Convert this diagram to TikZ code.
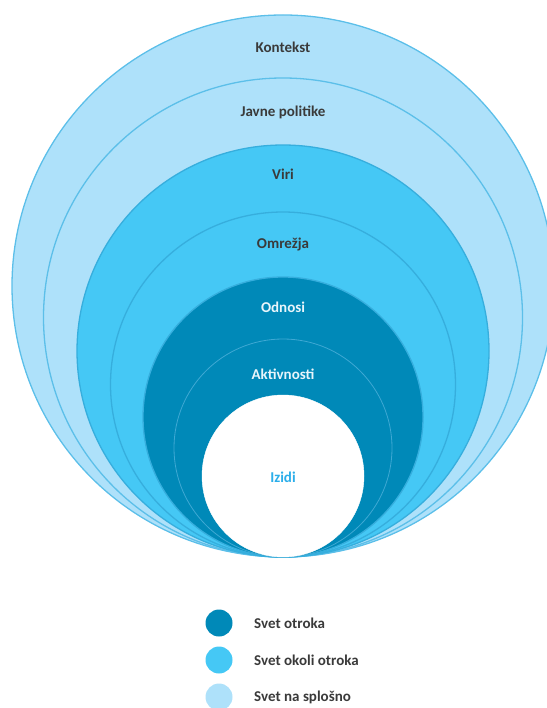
\documentclass[tikz,border=0pt]{standalone}
\usepackage{fontspec}
\setmainfont{Carlito}
\usetikzlibrary{positioning}

\definecolor{pale}{HTML}{AEE1FA}
\definecolor{paleline}{HTML}{5CBFE9}
\definecolor{mid}{HTML}{45C8F5}
\definecolor{midline}{HTML}{36AEDD}
\definecolor{deep}{HTML}{0089B8}
\definecolor{deepline}{HTML}{3FA9D4}
\definecolor{darktext}{HTML}{3A3A3A}
\definecolor{lighttext}{HTML}{E8F5FB}
\definecolor{izidtext}{HTML}{2BAEEA}

\begin{document}
\begin{tikzpicture} [x=1pt, y=-1pt,
        ring/.style={draw, circle, inner sep=0pt, line width=1.3pt},
        lbl/.style={font=\bfseries\fontsize{15}{17}\selectfont, text=darktext},
        dot/.style={circle, inner sep=0pt, minimum size=27pt}]
            \useasboundingbox (0,0) rectangle (546,708);

            % rings, all touching at the bottom
            \node[ring, fill=pale, draw=paleline, minimum size=542pt] (kontekst) at (283,286)   {};
            \node[ring, fill=pale, draw=paleline, minimum size=479pt] (politike) at (283,317.5) {};
            \node[ring, fill=mid, draw=midline, minimum size=412pt]   (viri)     at (283,351)   {};
            \node[ring, fill=mid, draw=midline, minimum size=345pt]   (omrezja)  at (283,384.5) {};
            \node[ring, fill=deep, draw=midline, minimum size=280pt]  (odnosi)   at (283,417)   {};
            \node[ring, fill=deep, draw=deepline, line width=0.8pt, minimum size=218pt] (aktivnosti) at (283,448) {};
            \node[ring, fill=white, draw=white, line width=0.4pt, minimum size=162pt]   (izidi)      at (283,476) {};

            % labels
            \node[lbl] (tkontekst)   at (283,47)  {Kontekst};
            \node[lbl] (tpolitike)   at (283,112) {Javne politike};
            \node[lbl] (tviri)       at (283,174) {Viri};
            \node[lbl] (tomrezja)    at (283,245) {Omrežja};
            \node[lbl, text=lighttext] (todnosi)     at (283,307) {Odnosi};
            \node[lbl, text=lighttext] (taktivnosti) at (283,374) {Aktivnosti};
            \node[lbl, text=izidtext]  (tizidi)      at (283,477) {Izidi};

            % legend
            \node[dot, fill=deep] (d1) at (219,623) {};
            \node[dot, fill=mid]  (d2) at (219,660) {};
            \node[dot, fill=pale] (d3) at (219,697) {};
            \node[lbl, anchor=west, right=18pt of d1] (l1) {Svet otroka};
            \node[lbl, anchor=west, right=18pt of d2] (l2) {Svet okoli otroka};
            \node[lbl, anchor=west, right=18pt of d3] (l3) {Svet na splošno};
        \end{tikzpicture}
\end{document}
